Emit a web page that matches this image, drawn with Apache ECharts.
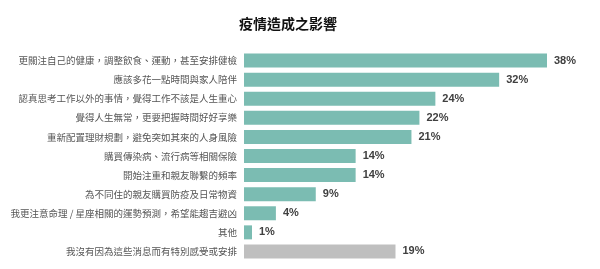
<!DOCTYPE html>
<html>
<head>
<meta charset="utf-8">
<script src="https://cdn.jsdelivr.net/npm/echarts@6/dist/echarts.min.js"></script>
<style>
  html, body { margin: 0; padding: 0; background: #fff; }
  #chart { width: 600px; height: 269px; }
</style>
</head>
<body>
<div id="chart"></div>
<script>
const categories = [
  "更關注自己的健康，調整飲食、運動，甚至安排健檢",
  "應該多花一點時間與家人陪伴",
  "認真思考工作以外的事情，覺得工作不該是人生重心",
  "覺得人生無常，更要把握時間好好享樂",
  "重新配置理財規劃，避免突如其來的人身風險",
  "購買傳染病、流行病等相關保險",
  "開始注重和親友聯繫的頻率",
  "為不同住的親友購買防疫及日常物資",
  "我更注意命理 / 星座相關的運勢預測，希望能趨吉避凶",
  "其他",
  "我沒有因為這些消息而有特別感受或安排"
];
const values = [38, 32, 24, 22, 21, 14, 14, 9, 4, 1, 19];
const greyIndex = 10; // 最後一項用灰色

const chart = echarts.init(document.getElementById("chart"));

const option = {
  animation: false,
  title: {
    text: "疫情造成之影響",
    left: 234,
    top: 12,
    textStyle: {
      fontFamily: "Noto Sans CJK TC",
      fontSize: 14,
      fontWeight: "bold",
      color: "#111"
    }
  },
  grid: {
    left: 244,
    right: 53,
    top: 51,
    bottom: 8,
    containLabel: false
  },
  xAxis: {
    type: "value",
    min: 0,
    max: 38,
    show: false
  },
  yAxis: {
    type: "category",
    inverse: true,
    data: categories,
    axisLine: { show: false },
    axisTick: { show: false },
    axisLabel: {
      margin: 7,
      fontFamily: "Noto Sans CJK TC",
      fontSize: 9.5,
      color: "#555"
    }
  },
  series: [
    {
      type: "bar",
      barWidth: 14,
      data: values.map((v, i) => ({
        value: v,
        itemStyle: { color: i === greyIndex ? "#bfbfbf" : "#7bbcb2" }
      })),
      label: {
        show: true,
        position: "right",
        distance: 7,
        formatter: "{c}%",
        fontFamily: "Liberation Sans",
        fontSize: 11,
        fontWeight: "bold",
        color: "#404040"
      }
    }
  ]
};
chart.setOption(option);
</script>
</body>
</html>
